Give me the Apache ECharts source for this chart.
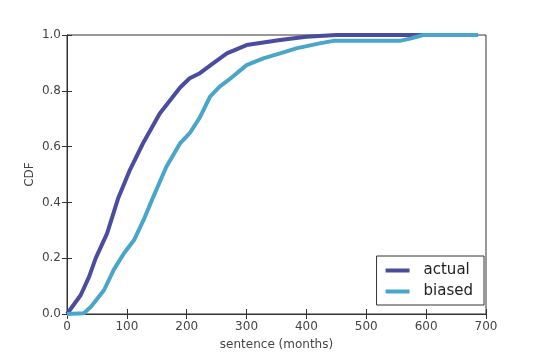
<!DOCTYPE html>
<html><head><meta charset="utf-8">
<script src="https://cdn.jsdelivr.net/npm/echarts@6/dist/echarts.min.js"></script>
<style>html,body{margin:0;padding:0;background:#fff}#c{width:540px;height:360px}</style>
</head><body><div id="c"></div>
<script>
const actualX = [0,3,23,37,48,67,85,105,127,155,189,205,222,244,267,300,356,400,450,686];
const actualY = [0,0,0.068,0.134,0.2,0.289,0.412,0.516,0.612,0.719,0.812,0.845,0.863,0.898,0.934,0.964,0.982,0.994,1.0,1.0];
const biasedX = [0,28,40,62,78,95,112,128,142,166,189,205,222,239,255,270,300,328,356,383,422,445,556,575,595,686];
const biasedY = [0,0.003,0.026,0.086,0.158,0.217,0.265,0.337,0.409,0.528,0.612,0.648,0.705,0.779,0.815,0.839,0.892,0.916,0.934,0.952,0.970,0.979,0.979,0.988,1.0,1.0];
const seriesNames = ['actual','biased'];
const xTicks = [0,100,200,300,400,500,600,700];
const yTicks = [0.0,0.2,0.4,0.6,0.8,1.0];

const zip = (xs, ys) => xs.map((x,i)=>[x, ys[i]]);
const font = 'DejaVu Sans';
const axisCol = '#333';
const tickStyle = {show:true, inside:true, length:5, lineStyle:{color:axisCol, width:1}};
const chart = echarts.init(document.getElementById('c'));
chart.setOption({
  animation:false,
  grid:{left:67, right:54, top:35, bottom:46, show:true, borderColor:axisCol, borderWidth:1},
  legend:{
    data:seriesNames, orient:'vertical', right:56, bottom:55,
    icon:'rect', itemWidth:24, itemHeight:4, itemGap:6,
    padding:[7,11,6,9], borderColor:axisCol, borderWidth:1,
    textStyle:{fontFamily:font, fontSize:15, color:'#222', padding:[0,0,0,9]}
  },
  xAxis:[
    {type:'value', min:xTicks[0], max:xTicks[xTicks.length-1], interval:100, position:'bottom',
     name:'sentence (months)', nameLocation:'middle', nameGap:25, nameMoveOverlap:false,
     nameTextStyle:{fontFamily:font, fontSize:12, color:'#444'},
     axisLine:{show:true, lineStyle:{color:axisCol}}, axisTick:tickStyle,
     axisLabel:{fontFamily:font, fontSize:12, color:'#444', margin:7}, splitLine:{show:false}},
    {type:'value', min:xTicks[0], max:xTicks[xTicks.length-1], interval:100, position:'top',
     axisLine:{show:true, lineStyle:{color:axisCol}}, axisTick:tickStyle,
     axisLabel:{show:false}, splitLine:{show:false}}
  ],
  yAxis:[
    {type:'value', min:yTicks[0], max:yTicks[yTicks.length-1], interval:0.2, position:'left',
     name:'CDF', nameLocation:'middle', nameGap:31, nameMoveOverlap:false,
     nameTextStyle:{fontFamily:font, fontSize:12, color:'#444'},
     axisLine:{show:true, lineStyle:{color:axisCol}}, axisTick:tickStyle,
     axisLabel:{fontFamily:font, fontSize:12, color:'#444', margin:6, formatter:v=>v.toFixed(1)},
     splitLine:{show:false}},
    {type:'value', min:yTicks[0], max:yTicks[yTicks.length-1], interval:0.2, position:'right',
     axisLine:{show:true, lineStyle:{color:axisCol}}, axisTick:tickStyle,
     axisLabel:{show:false}, splitLine:{show:false}}
  ],
  series:[
    {name:seriesNames[0], type:'line', showSymbol:false, data:zip(actualX, actualY),
     color:'#4a4c9f', lineStyle:{width:4, color:'#4a4c9f'}},
    {name:seriesNames[1], type:'line', showSymbol:false, data:zip(biasedX, biasedY),
     color:'#4aa6c9', lineStyle:{width:4, color:'#4aa6c9'}}
  ]
});
</script></body></html>
